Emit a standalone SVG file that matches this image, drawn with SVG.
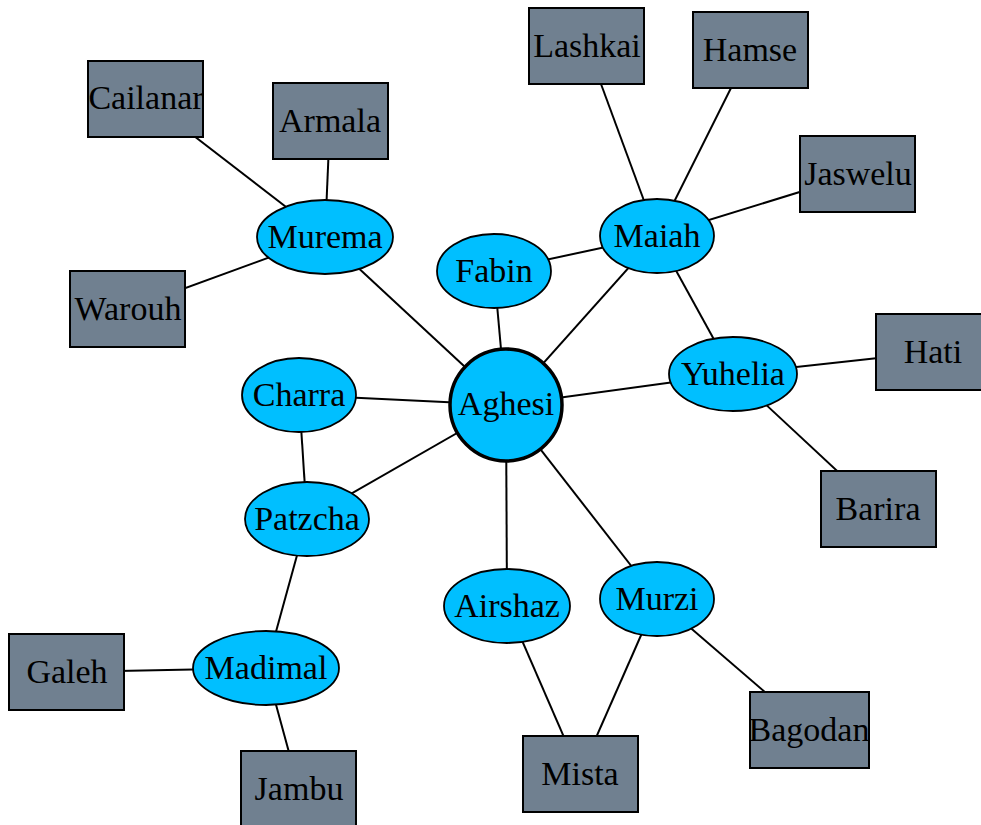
<svg xmlns="http://www.w3.org/2000/svg" width="981" height="825" viewBox="0 0 981 825">
  <style>
    .edge { stroke: #000; stroke-width: 2; fill: none; }
    .hub { fill: #00BFFF; stroke: #000; stroke-width: 1.8; }
    .root { fill: #00BFFF; stroke: #000; stroke-width: 3.5; }
    .leaf { fill: #708090; stroke: #000; stroke-width: 2; }
    text { font-family: "Liberation Serif", "Times New Roman", serif; font-size: 34px; fill: #000; text-anchor: middle; }
  </style>
  <rect width="981" height="825" fill="#fff"/>

  <g id="connectors">
    <line class="edge" x1="506" y1="405" x2="325" y2="237"/>
    <line class="edge" x1="506" y1="405" x2="494" y2="271"/>
    <line class="edge" x1="506" y1="405" x2="657" y2="236"/>
    <line class="edge" x1="506" y1="405" x2="299" y2="395"/>
    <line class="edge" x1="506" y1="405" x2="307" y2="519"/>
    <line class="edge" x1="506" y1="405" x2="507" y2="606"/>
    <line class="edge" x1="506" y1="405" x2="657" y2="599"/>
    <line class="edge" x1="506" y1="405" x2="733" y2="374"/>
    <line class="edge" x1="494" y1="271" x2="657" y2="236"/>
    <line class="edge" x1="325" y1="237" x2="146" y2="99"/>
    <line class="edge" x1="325" y1="237" x2="330" y2="121"/>
    <line class="edge" x1="325" y1="237" x2="128" y2="309"/>
    <line class="edge" x1="657" y1="236" x2="587" y2="46"/>
    <line class="edge" x1="657" y1="236" x2="750" y2="50"/>
    <line class="edge" x1="657" y1="236" x2="858" y2="174"/>
    <line class="edge" x1="657" y1="236" x2="733" y2="374"/>
    <line class="edge" x1="733" y1="374" x2="933" y2="352"/>
    <line class="edge" x1="733" y1="374" x2="878" y2="509"/>
    <line class="edge" x1="299" y1="395" x2="307" y2="519"/>
    <line class="edge" x1="307" y1="519" x2="266" y2="668"/>
    <line class="edge" x1="266" y1="668" x2="67" y2="672"/>
    <line class="edge" x1="266" y1="668" x2="299" y2="789"/>
    <line class="edge" x1="507" y1="606" x2="580" y2="774"/>
    <line class="edge" x1="657" y1="599" x2="580" y2="774"/>
    <line class="edge" x1="657" y1="599" x2="809" y2="730"/>
  </g>

  <g id="Cailanar"><rect class="leaf" x="88" y="61" width="115" height="76"/><text x="146" y="109">Cailanar</text></g>
  <g id="Armala"><rect class="leaf" x="273" y="83" width="115" height="76"/><text x="330" y="132">Armala</text></g>
  <g id="Warouh"><rect class="leaf" x="70" y="271" width="115" height="76"/><text x="128" y="320">Warouh</text></g>
  <g id="Lashkai"><rect class="leaf" x="529" y="8" width="115" height="76"/><text x="587" y="57">Lashkai</text></g>
  <g id="Hamse"><rect class="leaf" x="693" y="12" width="115" height="76"/><text x="750" y="61">Hamse</text></g>
  <g id="Jaswelu"><rect class="leaf" x="800" y="136" width="115" height="76"/><text x="858" y="185">Jaswelu</text></g>
  <g id="Hati"><rect class="leaf" x="876" y="314" width="115" height="76"/><text x="933" y="363">Hati</text></g>
  <g id="Barira"><rect class="leaf" x="821" y="471" width="115" height="76"/><text x="878" y="520">Barira</text></g>
  <g id="Bagodan"><rect class="leaf" x="750" y="692" width="119" height="76"/><text x="809" y="741">Bagodan</text></g>
  <g id="Mista"><rect class="leaf" x="523" y="736" width="115" height="76"/><text x="580" y="785">Mista</text></g>
  <g id="Jambu"><rect class="leaf" x="241" y="751" width="115" height="76"/><text x="299" y="800">Jambu</text></g>
  <g id="Galeh"><rect class="leaf" x="9" y="634" width="115" height="76"/><text x="67" y="683">Galeh</text></g>

  <g id="Murema"><ellipse class="hub" cx="325" cy="237" rx="68" ry="37"/><text x="325" y="248">Murema</text></g>
  <g id="Fabin"><ellipse class="hub" cx="494" cy="271" rx="57" ry="37"/><text x="494" y="282">Fabin</text></g>
  <g id="Maiah"><ellipse class="hub" cx="657" cy="236" rx="57" ry="37"/><text x="657" y="247">Maiah</text></g>
  <g id="Charra"><ellipse class="hub" cx="299" cy="395" rx="57" ry="37"/><text x="299" y="406">Charra</text></g>
  <g id="Patzcha"><ellipse class="hub" cx="307" cy="519" rx="62" ry="37"/><text x="307" y="530">Patzcha</text></g>
  <g id="Madimal"><ellipse class="hub" cx="266" cy="668" rx="73" ry="37"/><text x="266" y="679">Madimal</text></g>
  <g id="Airshaz"><ellipse class="hub" cx="507" cy="606" rx="63" ry="37"/><text x="507" y="617">Airshaz</text></g>
  <g id="Murzi"><ellipse class="hub" cx="657" cy="599" rx="57" ry="37"/><text x="657" y="610">Murzi</text></g>
  <g id="Yuhelia"><ellipse class="hub" cx="733" cy="374" rx="64" ry="37"/><text x="733" y="385">Yuhelia</text></g>
  <g id="Aghesi"><circle class="root" cx="506" cy="405" r="56"/><text x="506" y="415">Aghesi</text></g>
</svg>
